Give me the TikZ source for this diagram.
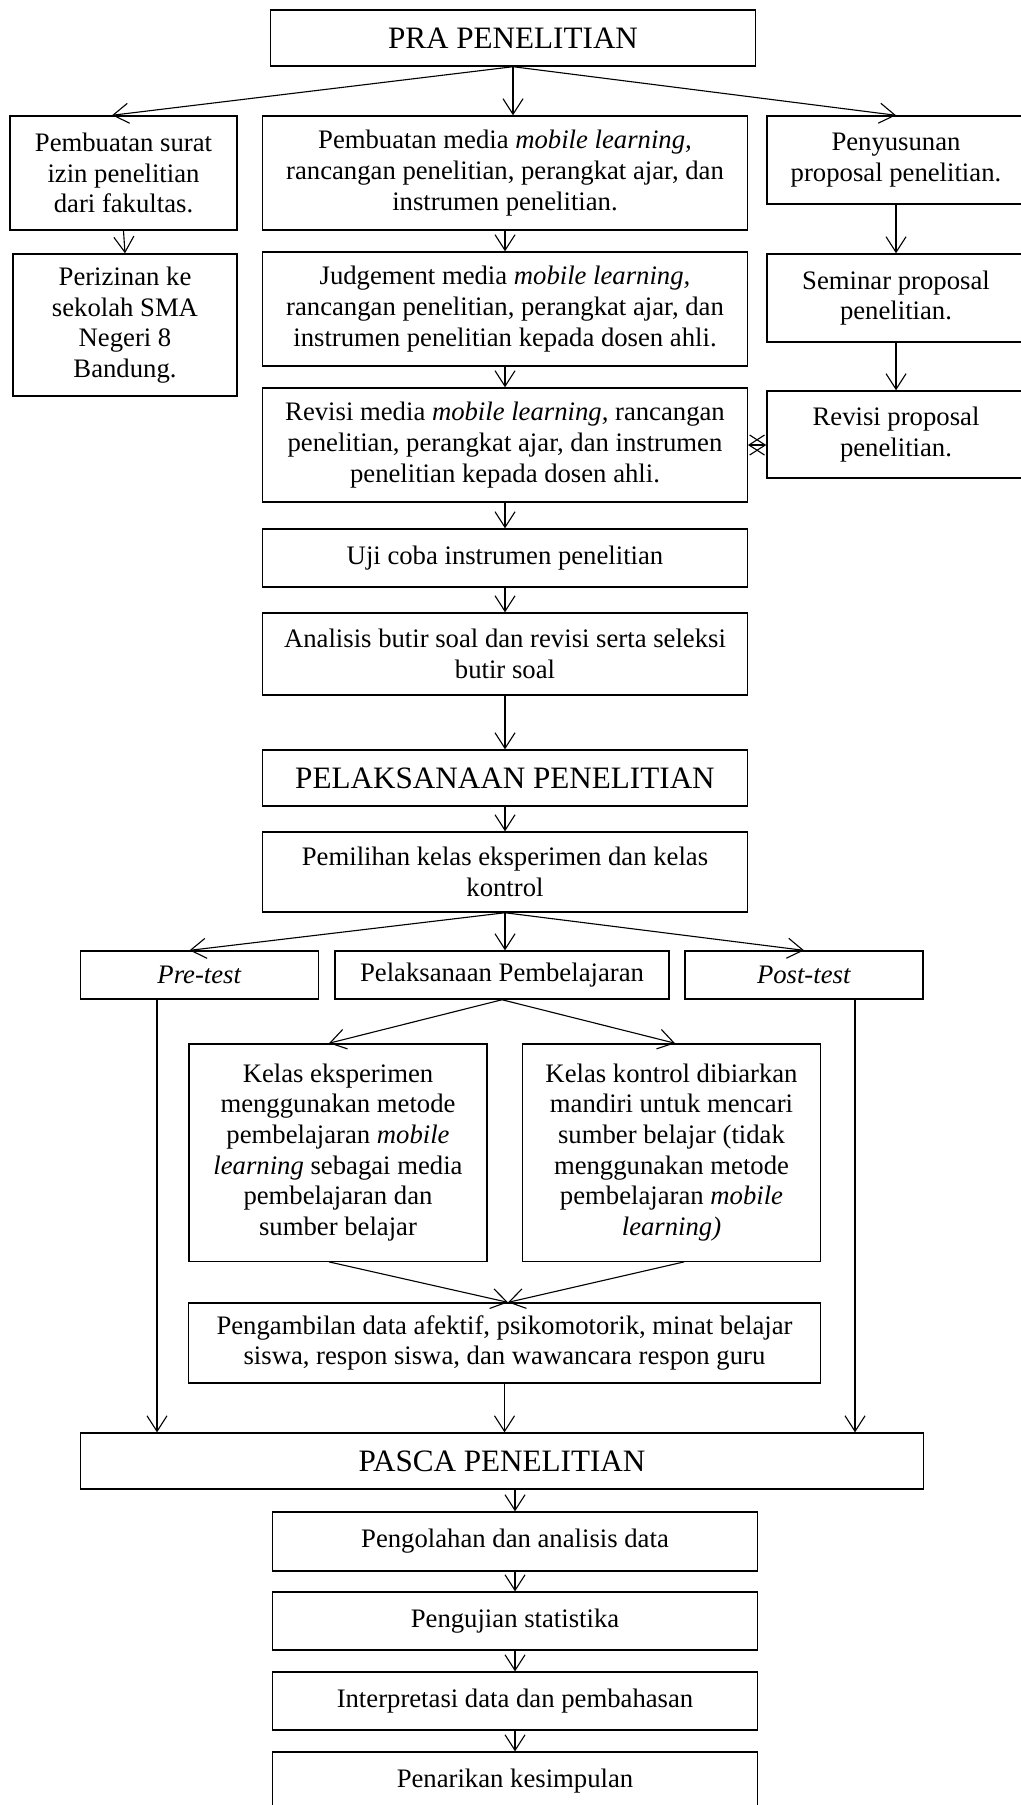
\documentclass[tikz,border=0pt]{standalone}
\usepackage{fontspec}
\setmainfont{Liberation Serif}
\usetikzlibrary{arrows.meta,calc}

\begin{document}
\begin{tikzpicture}[scale=0.158, >={Straight Barb[length=7pt,width=9pt]}]
	\tikzstyle{every node}+=[inner sep=2pt, font=\fontsize{12}{13.8}\selectfont]
	\tikzstyle{box}=[draw, black, line width=0.6pt, align=center, minimum width=217.8pt]
	\tikzstyle{title}=[box, font=\fontsize{14}{16}\selectfont, minimum height=25.2pt]
	\tikzstyle{flow}=[black, line width=0.5pt, ->]
	\useasboundingbox (0,0) rectangle (102.1,-180.5);
	% pra penelitian
	\draw (51.3,-3.8) node [title] (pra) {PRA PENELITIAN};
	\draw (12.35,-17.3) node [box, minimum width=102.2pt, minimum height=51.3pt] (surat) {Pembuatan surat\\izin penelitian\\dari fakultas.};
	\draw (50.5,-17.3) node [box, minimum height=51.3pt] (media) {Pembuatan media \textit{mobile learning,}\\rancangan penelitian, perangkat ajar, dan\\instrumen penelitian.};
	\draw (89.6,-16.0) node [box, minimum width=116.1pt, minimum height=39.6pt] (susun) {Penyusunan\\proposal penelitian.};
	\draw (12.5,-32.5) node [box, minimum width=100.8pt, minimum height=63.9pt] (izin) {Perizinan ke\\sekolah SMA\\Negeri 8\\Bandung.};
	\draw (50.5,-30.9) node [box, minimum height=51.3pt] (judge) {Judgement media \textit{mobile learning,}\\rancangan penelitian, perangkat ajar, dan\\instrumen penelitian kepada dosen ahli.};
	\draw (89.6,-29.8) node [box, minimum width=116.1pt, minimum height=39.6pt] (seminar) {Seminar proposal\\penelitian.};
	\draw (50.5,-44.5) node [box, minimum height=51.3pt] (revisi) {Revisi media \textit{mobile learning,} rancangan\\penelitian, perangkat ajar, dan instrumen\\penelitian kepada dosen ahli.};
	\draw (89.6,-43.45) node [box, minimum width=116.1pt, minimum height=39.2pt] (revprop) {Revisi proposal\\penelitian.};
	\draw (50.5,-55.8) node [box, minimum height=26.1pt] (uji) {Uji coba instrumen penelitian};
	\draw (50.5,-65.4) node [box, minimum height=36.9pt] (analisis) {Analisis butir soal dan revisi serta seleksi\\butir soal};
	% pelaksanaan penelitian
	\draw (50.5,-77.8) node [title] (pelaks) {PELAKSANAAN PENELITIAN};
	\draw (50.5,-87.2) node [box, minimum height=36pt] (pilih) {Pemilihan kelas eksperimen dan kelas\\kontrol};
	\draw (19.95,-97.5) node [box, minimum width=106.7pt, minimum height=21.6pt] (pre) {\textit{Pre-test}};
	\draw (50.2,-97.5) node [box, minimum width=150.3pt, minimum height=21.6pt] (pembel) {Pelaksanaan Pembelajaran};
	\draw (80.4,-97.5) node [box, minimum width=107.1pt, minimum height=21.6pt] (post) {\textit{Post-test}};
	\draw (33.8,-115.25) node [box, minimum width=134.1pt, minimum height=97.7pt] (eksp) {Kelas eksperimen\\menggunakan metode\\pembelajaran \textit{mobile}\\\textit{learning} sebagai media\\pembelajaran dan\\sumber belajar};
	\draw (67.15,-115.25) node [box, minimum width=133.7pt, minimum height=97.7pt] (kontrol) {Kelas kontrol dibiarkan\\mandiri untuk mencari\\sumber belajar (tidak\\menggunakan metode\\pembelajaran \textit{mobile}\\\textit{learning)}};
	\draw (50.45,-134.3) node [box, minimum width=284pt, minimum height=36pt] (ambil) {Pengambilan data afektif, psikomotorik, minat belajar\\siswa, respon siswa, dan wawancara respon guru};
	% pasca penelitian
	\draw (50.2,-146.1) node [title, minimum width=378.9pt] (pasca) {PASCA PENELITIAN};
	\draw (51.5,-154.15) node [box, minimum height=26.6pt] (olah) {Pengolahan dan analisis data};
	\draw (51.5,-162.1) node [box, minimum height=26.1pt] (stat) {Pengujian statistika};
	\draw (51.5,-170.1) node [box, minimum height=26.1pt] (interp) {Interpretasi data dan pembahasan};
	\draw (51.5,-178.1) node [box, minimum height=26.1pt] (tarik) {Penarikan kesimpulan};
	% connectors
	\draw [flow] (pra.south) -- ($(surat.north)+(-1.15,0)$);
	\draw [flow] (pra.south) -- (pra.south |- media.north);
	\draw [flow] (pra.south) -- (susun.north);
	\draw [flow] (surat.south) -- (izin.north);
	\draw [flow] (media.south) -- (judge.north);
	\draw [flow] (judge.south) -- (revisi.north);
	\draw [flow] (susun.south) -- (seminar.north);
	\draw [flow] (seminar.south) -- (revprop.north);
	\draw [black, line width=0.5pt, <->] (revisi.east) -- (revisi.east -| revprop.west);
	\draw [flow] (revisi.south) -- (uji.north);
	\draw [flow] (uji.south) -- (analisis.north);
	\draw [flow] (analisis.south) -- (pelaks.north);
	\draw [flow] (pelaks.south) -- (pilih.north);
	\draw [flow] (pilih.south) -- ($(pre.north)+(-1,0)$);
	\draw [flow] (pilih.south) -- (pilih.south |- pembel.north);
	\draw [flow] (pilih.south) -- (post.north);
	\draw [flow] (pembel.south) -- ($(eksp.north)+(-0.9,0)$);
	\draw [flow] (pembel.south) -- ($(kontrol.north)+(0.35,0)$);
	\draw [flow] ($(eksp.south)+(-0.9,0)$) -- ($(ambil.north)+(0.35,0)$);
	\draw [flow] ($(kontrol.south)+(1.25,0)$) -- ($(ambil.north)+(0.35,0)$);
	\draw [flow] ($(pre.south)+(-4.25,0)$) -- ($(pre.south |- pasca.north)+(-4.25,0)$);
	\draw [flow] ($(post.south)+(5.1,0)$) -- ($(post.south |- pasca.north)+(5.1,0)$);
	\draw [flow] (ambil.south) -- (ambil.south |- pasca.north);
	\draw [flow] (olah.north |- pasca.south) -- (olah.north);
	\draw [flow] (olah.south) -- (stat.north);
	\draw [flow] (stat.south) -- (interp.north);
	\draw [flow] (interp.south) -- (tarik.north);
\end{tikzpicture}
\end{document}
